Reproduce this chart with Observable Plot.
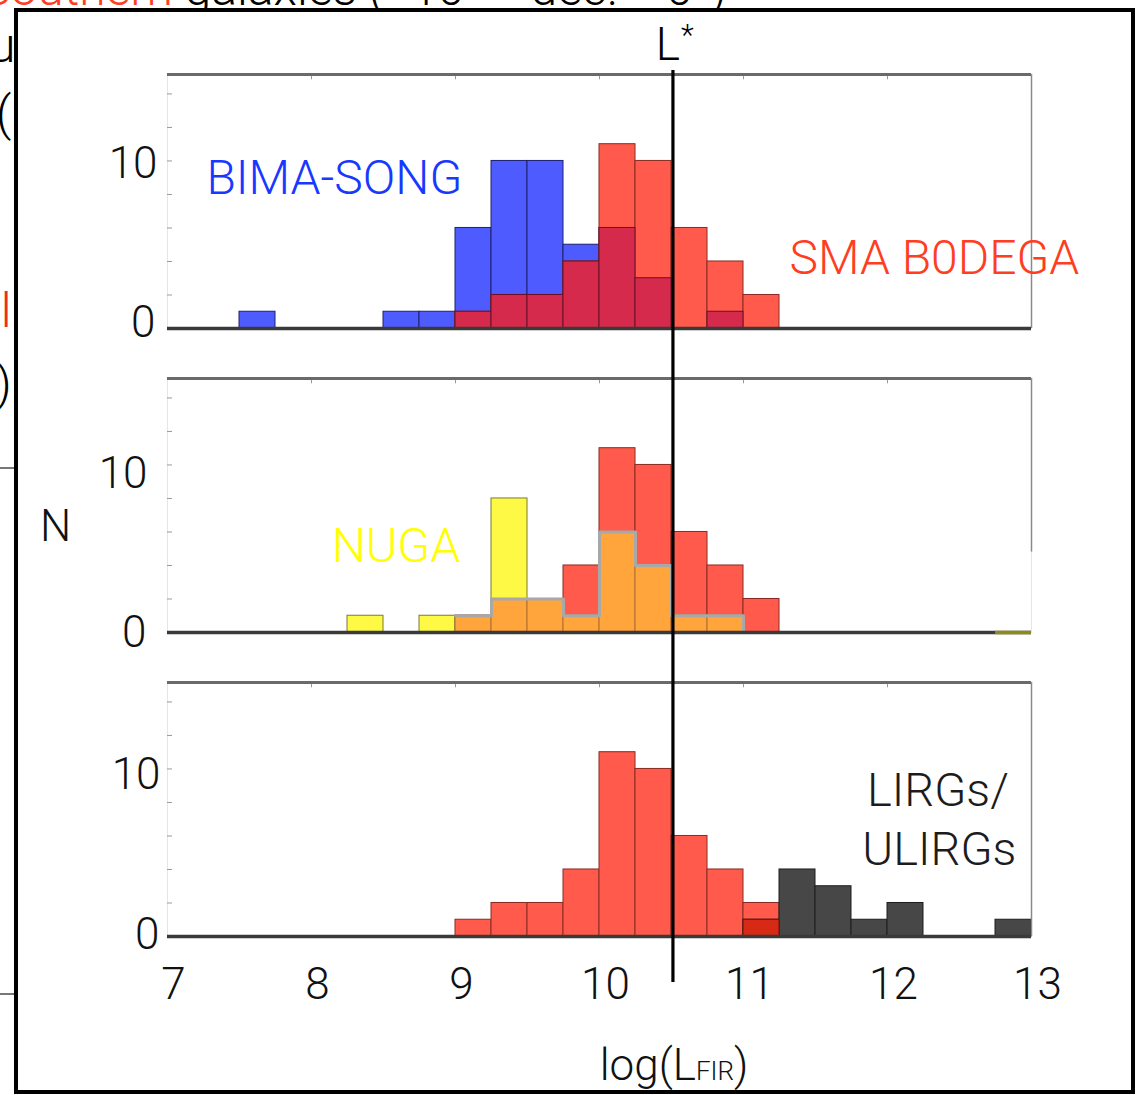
<!DOCTYPE html>
<html>
<head>
<meta charset="utf-8">
<script src="https://cdn.jsdelivr.net/npm/d3@7"></script>
<script src="https://cdn.jsdelivr.net/npm/@observablehq/plot@0.6"></script>
<style>
  html, body { margin: 0; padding: 0; background: #fff; width: 1139px; height: 1095px; overflow: hidden; }
  #page { position: relative; width: 1139px; height: 1095px; overflow: hidden;
          font-family: Roboto, "Helvetica Neue", "Liberation Sans", sans-serif; font-weight: 300; }
  .bg { position: absolute; white-space: nowrap; z-index: 0; }
  .bgline { position: absolute; left: 0; width: 16px; height: 2px; background: #777; z-index: 0; }
  #frame { position: absolute; left: 14px; top: 8px; width: 1113px; height: 1078px;
           border: 4px solid #000; background: #fff; z-index: 1; }
  #chart { position: absolute; left: 0; top: 0; z-index: 2; }
  #xlabel { position: absolute; left: 674px; top: 1043px; transform: translateX(-50%);
            font-size: 44px; line-height: 44px; color: #111; z-index: 3; white-space: nowrap; }
  #xlabel span { font-size: 26px; }
</style>
</head>
<body>
<div id="page">
  <!-- fragments of the slide behind the figure -->
  <div class="bg" style="left:-18px; top:-35px; font-size:48px; line-height:48px;"><span style="color:#ff3d1f">Southern</span> galaxies (−10° &lt; dec. &lt; 0°)</div>
  <div class="bg" style="left:-11px; top:22px; font-size:48px; line-height:48px;">u</div>
  <div class="bg" style="left:-4px; top:90px; font-size:48px; line-height:48px;">(</div>
  <div class="bg" style="left:-10px; top:287px; font-size:48px; line-height:48px; color:#e8301a;">ll</div>
  <div class="bg" style="left:-4px; top:360px; font-size:48px; line-height:48px;">)</div>
  <div class="bg" style="left:-30px; top:494px; font-size:36px; line-height:36px; color:#1a5cff;">A</div>
  <div class="bgline" style="top:467px;"></div>
  <div class="bgline" style="top:993px;"></div>
  <div id="frame"></div>
  <div id="chart"></div>
  <div id="xlabel">log(L<span>FIR</span>)</div>
</div>
<script>
// ---- data ----
const bins = [7.0, 7.25, 7.5, 7.75, 8.0, 8.25, 8.5, 8.75, 9.0, 9.25, 9.5, 9.75,
              10.0, 10.25, 10.5, 10.75, 11.0, 11.25, 11.5, 11.75, 12.0, 12.25, 12.5, 12.75];
const binWidth = 0.25;
const bimaSong  = [0,0,1,0,0,0,1,1, 6,10,10,5, 6,3,0,1, 0,0,0,0, 0,0,0,0];
const smaBodega = [0,0,0,0,0,0,0,0, 1,2,2,4, 11,10,6,4, 2,0,0,0, 0,0,0,0];
const nuga      = [0,0,0,0,0,1,0,1, 1,8,2,1, 6,4,1,1, 0,0,0,0, 0,0,0,0];
const lirgs     = [0,0,0,0,0,0,0,0, 0,0,0,0, 0,0,0,0, 1,4,3,1, 2,0,0,1];
const lStar = 10.51;
const panels = ["A", "B", "C"];
const xTickLabels = [7, 8, 9, 10, 11, 12, 13];
const yTickLabels = [0, 10];
const yMinorTicks = [2, 4, 6, 8, 10, 12, 14];
const yTop = 15.16;

// ---- helpers to build tables ----
const FONT = 'Roboto, "Helvetica Neue", "Liberation Sans", sans-serif';
function hist(counts, panel) {
  return bins.map((b, i) => ({x1: b, x2: b + binWidth, n: counts[i], panel})).filter(d => d.n > 0);
}
function overlap(a, b, panel) {
  return bins.map((x, i) => ({x1: x, x2: x + binWidth, n: Math.min(a[i], b[i]), panel})).filter(d => d.n > 0);
}
function stairs(rows) {
  if (!rows.length) return [];
  const pts = rows.map(d => ({x: d.x1, y: d.n, panel: d.panel}));
  const last = rows[rows.length - 1];
  pts.push({x: last.x2, y: last.n, panel: last.panel});
  pts.push({x: last.x2, y: 0, panel: last.panel});
  return pts;
}

const ovA = overlap(bimaSong, smaBodega, "A");
const ovB = overlap(nuga, smaBodega, "B");
const ovC = overlap(lirgs, smaBodega, "C");

const bar = (data, fill, stroke) => Plot.rectY(data, {x1: "x1", x2: "x2", y: "n", fy: "panel", fill, stroke, strokeWidth: 1});

const labelsStart = [
  {panel: "A", x: 7.27, y: 8.96, text: "BIMA-SONG", color: "#1838ff"},
  {panel: "A", x: 11.32, y: 4.18, text: "SMA B0DEGA", color: "#ff3d1f"},
  {panel: "B", x: 8.14, y: 5.13, text: "NUGA", color: "#ffff00"}
];
const labelsMiddle = [
  {panel: "C", x: 12.35, y: 8.66, text: "LIRGs/", color: "#1c1c1c"},
  {panel: "C", x: 12.36, y: 5.19, text: "ULIRGs", color: "#1c1c1c"}
];

// y tick labels were placed by hand in the original: small per-label offsets
const yLab = (panel, v, dx, dy) => Plot.text([{v, panel}], {
  x: 7, y: "v", fy: "panel", text: d => String(d.v), textAnchor: "end", dx, dy,
  fontSize: 44, fontWeight: 300, fontFamily: FONT, fill: "#111"
});

const lRule = (panel, insetTop, insetBottom) => Plot.ruleX([{panel, x: lStar}], {
  x: "x", fy: "panel", stroke: "#000", strokeWidth: 3.2, insetTop, insetBottom
});

const chart = Plot.plot({
  width: 1139,
  height: 1095,
  marginLeft: 167, marginRight: 108, marginTop: 74, marginBottom: 159,
  style: {background: "transparent", overflow: "visible", fontFamily: FONT},
  x: {domain: [7, 13]},
  y: {domain: [0, yTop], axis: null},
  fy: {domain: panels, axis: null, paddingInner: 0.1645, paddingOuter: 0, round: false},
  marks: [
    Plot.frame({stroke: "#e6e6e6"}),
    // panel A: BIMA-SONG (blue) + SMA BODEGA (red)
    bar(hist(bimaSong, "A"), "#4e5cff", "#1c2070"),
    bar(hist(smaBodega, "A"), "#ff5a4b", "#8a2a22"),
    bar(ovA, "#d62a4c", "#6a1028"),
    // panel B: NUGA (yellow) + SMA BODEGA (red)
    bar(hist(smaBodega, "B"), "#ff5a4b", "#8a2a22"),
    bar(hist(nuga, "B"), "#fdf944", "#7a7a30"),
    bar(ovB, "#ffa53c", "#b07030"),
    Plot.line(stairs(ovB), {x: "x", y: "y", fy: "panel", curve: "step-after", stroke: "#a8a8a8", strokeWidth: 3}),
    // panel C: LIRGs/ULIRGs (grey) + SMA BODEGA (red)
    bar(hist(smaBodega, "C"), "#ff5a4b", "#8a2a22"),
    bar(hist(lirgs, "C"), "#474747", "#1e1e1e"),
    bar(ovC, "#d62a14", "#701008"),
    // frame details
    Plot.ruleX(xTickLabels.slice(1, -1), {x: d => d, y1: yTop, y2: yTop - 0.32, stroke: "#9a9a9a", strokeWidth: 1}),
    Plot.ruleY(yMinorTicks, {y: d => d, x1: 7, x2: 7.035, stroke: "#9a9a9a", strokeWidth: 1}),
    Plot.ruleY([yTop], {stroke: "#6a6a6a", strokeWidth: 3}),
    Plot.ruleX([{panel: "A"}, {panel: "C"}], {x: 13, fy: "panel", stroke: "#8a8a8a", strokeWidth: 1.5}),
    Plot.ruleX([{panel: "B"}], {x: 13, fy: "panel", y1: 4.8, y2: yTop, stroke: "#8a8a8a", strokeWidth: 1.5}),
    Plot.ruleY([0], {stroke: "#3a3a3a", strokeWidth: 3.5}),
    Plot.ruleY([{panel: "B", y: 0}], {y: "y", fy: "panel", x1: 12.75, x2: 13, stroke: "#8c8a1a", strokeWidth: 3.5}),
    // L* marker
    lRule("A", -4, -25),
    lRule("B", -25, -25),
    lRule("C", -25, -46),
    Plot.text([{panel: "A", x: lStar}], {x: "x", y: yTop, fy: "panel", text: () => "L", textAnchor: "end",
      dx: 7, dy: -29, fontSize: 46, fontWeight: 300, fontFamily: FONT, fill: "#000"}),
    Plot.text([{panel: "A", x: lStar}], {x: "x", y: yTop, fy: "panel", text: () => "*", textAnchor: "start",
      dx: 8, dy: -39, fontSize: 30, fontWeight: 300, fontFamily: FONT, fill: "#000"}),
    // annotations
    Plot.text(labelsStart, {x: "x", y: "y", fy: "panel", text: "text", fill: "color", textAnchor: "start",
      fontSize: 48, fontWeight: 300, fontFamily: FONT, ariaLabel: "annotation"}),
    Plot.text(labelsMiddle, {x: "x", y: "y", fy: "panel", text: "text", fill: "color", textAnchor: "middle",
      fontSize: 47, fontWeight: 300, fontFamily: FONT, ariaLabel: "annotation"}),
    // y tick labels
    yLab("A", 10, -10, 3), yLab("A", 0, -12, -6),
    yLab("B", 10, -20, 9), yLab("B", 0, -21, 0),
    yLab("C", 10, -7, 6), yLab("C", 0, -8, -2),
    Plot.text([{panel: "B"}], {x: 7, y: 6.3, fy: "panel", text: () => "N", dx: -112, textAnchor: "middle",
      fontSize: 44, fontWeight: 300, fontFamily: FONT, fill: "#111"}),
    // x tick labels
    Plot.axisX(xTickLabels, {anchor: "bottom", tickSize: 0, tickPadding: 31, dx: 6, label: null,
      tickFormat: d => String(d), fontSize: 44, fontWeight: 300, fontFamily: FONT, color: "#111"})
  ]
});
document.getElementById("chart").appendChild(chart);
d3.select(chart).selectAll('g[aria-label="annotation"] text')
  .style("filter", "drop-shadow(1px 2px 3px rgba(0,0,0,0.35))");
</script>
</body>
</html>
